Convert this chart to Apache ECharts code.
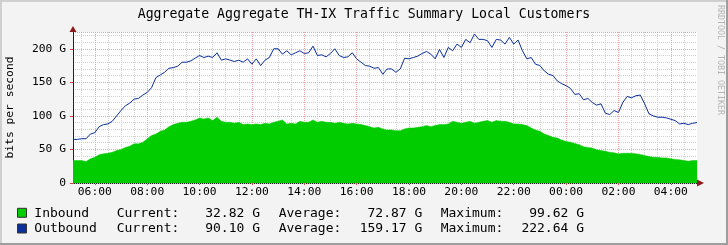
<!DOCTYPE html>
<html><head><meta charset="utf-8">
<script src="https://cdn.jsdelivr.net/npm/echarts@6/dist/echarts.min.js"></script>
<style>html,body{margin:0;padding:0;background:#f3f3f3}#c{width:728px;height:245px}</style>
</head><body><div id="c"></div>
<script>
const chartTitle = 'Aggregate Aggregate TH-IX Traffic Summary Local Customers';
const yAxisTitle = 'bits per second';
const sideText = 'RRDTOOL / TOBI OETIKER';
// sample times in minutes after midnight: 10-minute steps from 05:10 to 05:00 next day
const times = [];
for (let m = 310; m <= 1740; m += 10) times.push(m);
const inbound = [33.5,33.5,33.5,32,36,38.4,42,43.4,44.3,45.8,48.3,49.8,53,54.7,58.3,58.3,60.7,65.7,70.6,73,77,79,84,87,89,90.5,90.5,92,94,97,95.5,97,93,98,92,90.5,90.5,89,90.5,87,88,87,88,87,89,88,90.5,92,94,88,89,88,92,90.5,90.5,94,90.5,92,90.5,90.5,89,90.5,89,88,89,88,87,85.5,84,82,83,80.6,79,79,78,78,80.6,82,82,83,84,85.5,84,85.5,87,87,88,92,90.5,89,90.5,92,89,90.5,92,93,90.5,93,92,92,90.5,88,88,87,85.5,82,79,77,73,70.6,68,67,64,62,60.7,59,57,54,53,52,49.4,48.3,47.3,45.8,45,43.4,44.3,44.3,44.3,43.4,42.4,41,39.4,38.4,38.4,37.4,37.4,36,35,34.5,33.5,32.5,33.5,33.5,32.8];
const outbound = [65,65,66,66,73,75,84,87,88,92,100,108,115,119,125,126,131,135,142,157,161,165,171,172,174,180,180,182,186,190,187,189,187,194,183,185,183,181,183,180,185,177,185,175,183,187,200,200,192,197,191,194,197,193,194,204,190,191,188,193,200,190,187,188,194,185,180,175,174,171,172,162,170,170,165,170,186,185,187,189,193,196,192,185,199,187,202,197,207,202,214,209,222,214,214,212,202,214,213,207,217,207,213,197,185,187,177,175,167,162,160,152,148,145,141,132,133,124,126,120,116,118,104,102,108,105,120,129,127,130,131,118,103,100,98,98,97,95,93,88,89,87,89,90,90.1];
const yMax = 225;
// vertical grid: first line (minutes after midnight) and spacing of each line family
const minorGridStarts = [330, 420];     // 05:30 every hour, 07:00 every 2 hours
const minorGridSteps = [60, 120];
const majorGridStart = 360;            // 06:00, labelled every 2 hours
const majorGridStep = 120;
const legendNames = ['Inbound', 'Outbound'];
const legendColors = ['#00cc00', '#0a2f9a'];
const currentVals = ['32.82 G', '90.10 G'];
const averageVals = ['72.87 G', '159.17 G'];
const maximumVals = ['99.62 G', '222.64 G'];

const FONT = 'DejaVu Sans Mono';
const tStart = times[0], tEnd = times[times.length - 1];
const PL = 73, PR = 31, PT = 32, PB = 62;
const pxPerMin = (728 - PL - PR) / (tEnd - tStart);
const hhmm = v => { const m = ((v % 1440) + 1440) % 1440; const h = Math.floor(m / 60), mm = m % 60; return (h < 10 ? '0' : '') + h + ':' + (mm < 10 ? '0' : '') + mm; };

const chart = echarts.init(document.getElementById('c'), null, {renderer: 'canvas'});

const graphics = [
  {type: 'rect', shape: {x: 0, y: 0, width: 728, height: 2}, style: {fill: '#cfcfcf'}, z: -9},
  {type: 'rect', shape: {x: 0, y: 0, width: 2, height: 245}, style: {fill: '#cfcfcf'}, z: -9},
  {type: 'rect', shape: {x: 726, y: 0, width: 2, height: 245}, style: {fill: '#9e9e9e'}, z: -9},
  {type: 'rect', shape: {x: 0, y: 243, width: 728, height: 2}, style: {fill: '#9e9e9e'}, z: -9},
  {type: 'text', x: 364, y: 14.5, style: {text: chartTitle, font: '13.2px "' + FONT + '"', fill: '#000', textAlign: 'center', textVerticalAlign: 'middle'}},
  {type: 'text', x: 10, y: 107.5, rotation: Math.PI / 2, style: {text: yAxisTitle, font: '11.3px "' + FONT + '"', fill: '#000', textAlign: 'center', textVerticalAlign: 'middle'}},
  {type: 'text', x: 720, y: 5, rotation: -Math.PI / 2, style: {text: sideText, font: '8.3px "' + FONT + '"', fill: '#b4b4b4', textAlign: 'left', textVerticalAlign: 'middle'}},
  {type: 'polygon', shape: {points: [[69.5, 32], [76.5, 32], [73, 26]]}, style: {fill: '#8b1a1a'}, z: 50},
  {type: 'polygon', shape: {points: [[697, 179.5], [697, 186.5], [704, 183]]}, style: {fill: '#8b1a1a'}, z: 50}
];
const rowY = [213.3, 229];
legendNames.forEach((n, k) => {
  const y = rowY[k];
  const f = '13px "' + FONT + '"';
  graphics.push({type: 'rect', shape: {x: 17.5, y: y - 5, width: 9, height: 9}, style: {fill: legendColors[k], stroke: '#333', lineWidth: 1}});
  graphics.push({type: 'text', x: 34.3, y: y, style: {text: n, font: f, fill: '#000', textVerticalAlign: 'middle'}});
  graphics.push({type: 'text', x: 116.7, y: y, style: {text: 'Current:', font: f, fill: '#000', textVerticalAlign: 'middle'}});
  graphics.push({type: 'text', x: 260, y: y, style: {text: currentVals[k], font: f, fill: '#000', textAlign: 'right', textVerticalAlign: 'middle'}});
  graphics.push({type: 'text', x: 278.7, y: y, style: {text: 'Average:', font: f, fill: '#000', textVerticalAlign: 'middle'}});
  graphics.push({type: 'text', x: 422.3, y: y, style: {text: averageVals[k], font: f, fill: '#000', textAlign: 'right', textVerticalAlign: 'middle'}});
  graphics.push({type: 'text', x: 440.7, y: y, style: {text: 'Maximum:', font: f, fill: '#000', textVerticalAlign: 'middle'}});
  graphics.push({type: 'text', x: 584, y: y, style: {text: maximumVals[k], font: f, fill: '#000', textAlign: 'right', textVerticalAlign: 'middle'}});
});

const minorCol = '#d0d0d0', majorCol = '#eba3a3';
const grids = [{left: PL, right: PR, top: PT, bottom: PB, show: true, backgroundColor: '#ffffff', borderWidth: 0}];
const xAxes = [{type: 'value', gridIndex: 0, min: tStart, max: tEnd,
  axisLine: {show: true, onZero: false, lineStyle: {color: '#222', width: 1}},
  axisLabel: {show: false}, axisTick: {show: false}, splitLine: {show: false}}];
const yAxes = [
  {type: 'value', gridIndex: 0, min: 0, max: yMax, interval: 10,
   axisLine: {show: false}, axisLabel: {show: false}, axisTick: {show: false},
   splitLine: {show: true, lineStyle: {color: minorCol, type: 'dotted', width: 1}}},
  {type: 'value', gridIndex: 0, min: 0, max: yMax, interval: 50, position: 'left',
   axisLine: {show: true, lineStyle: {color: '#222', width: 1}},
   axisTick: {show: true, length: 3, lineStyle: {color: '#c44'}},
   axisLabel: {show: true, showMaxLabel: false, margin: 7, color: '#000', fontFamily: FONT, fontSize: 11.3,
     formatter: v => v === 0 ? '0' : v + ' G'},
   splitLine: {show: true, lineStyle: {color: majorCol, type: 'dotted', width: 1}}, z: 1}
];
function addGridAxis(start, step, major) {
  const gi = grids.length;
  grids.push({left: PL + (start - tStart) * pxPerMin, right: PR, top: PT, bottom: PB});
  xAxes.push({type: 'value', gridIndex: gi, min: start, max: tEnd, interval: step,
    axisLine: {show: false},
    axisTick: major ? {show: true, length: 2, lineStyle: {color: '#c44'}} : {show: false},
    axisLabel: major ? {show: true, showMaxLabel: false, margin: 4, color: '#000', fontFamily: FONT, fontSize: 11.3, formatter: hhmm} : {show: false},
    splitLine: {show: true, showMinLine: true, showMaxLine: false, lineStyle: {color: major ? majorCol : minorCol, type: 'dotted', width: 1}}});
  yAxes.push({type: 'value', gridIndex: gi, min: 0, max: yMax, show: false});
}
minorGridStarts.forEach((s, i) => addGridAxis(s, minorGridSteps[i], false));
addGridAxis(majorGridStart, majorGridStep, true);

chart.setOption({
  animation: false,
  backgroundColor: '#f3f3f3',
  grid: grids,
  xAxis: xAxes,
  yAxis: yAxes,
  series: [
    {name: 'Inbound', type: 'line', xAxisIndex: 0, yAxisIndex: 0, data: times.map((t, i) => [t, inbound[i]]), symbol: 'none',
     lineStyle: {width: 0.5, color: '#00cc00'}, areaStyle: {color: '#00cc00', opacity: 1}, z: 5},
    {name: 'Outbound', type: 'line', xAxisIndex: 0, yAxisIndex: 0, data: times.map((t, i) => [t, outbound[i]]), symbol: 'none',
     lineStyle: {width: 1, color: legendColors[1]}, z: 6}
  ],
  graphic: graphics
});
</script></body></html>
